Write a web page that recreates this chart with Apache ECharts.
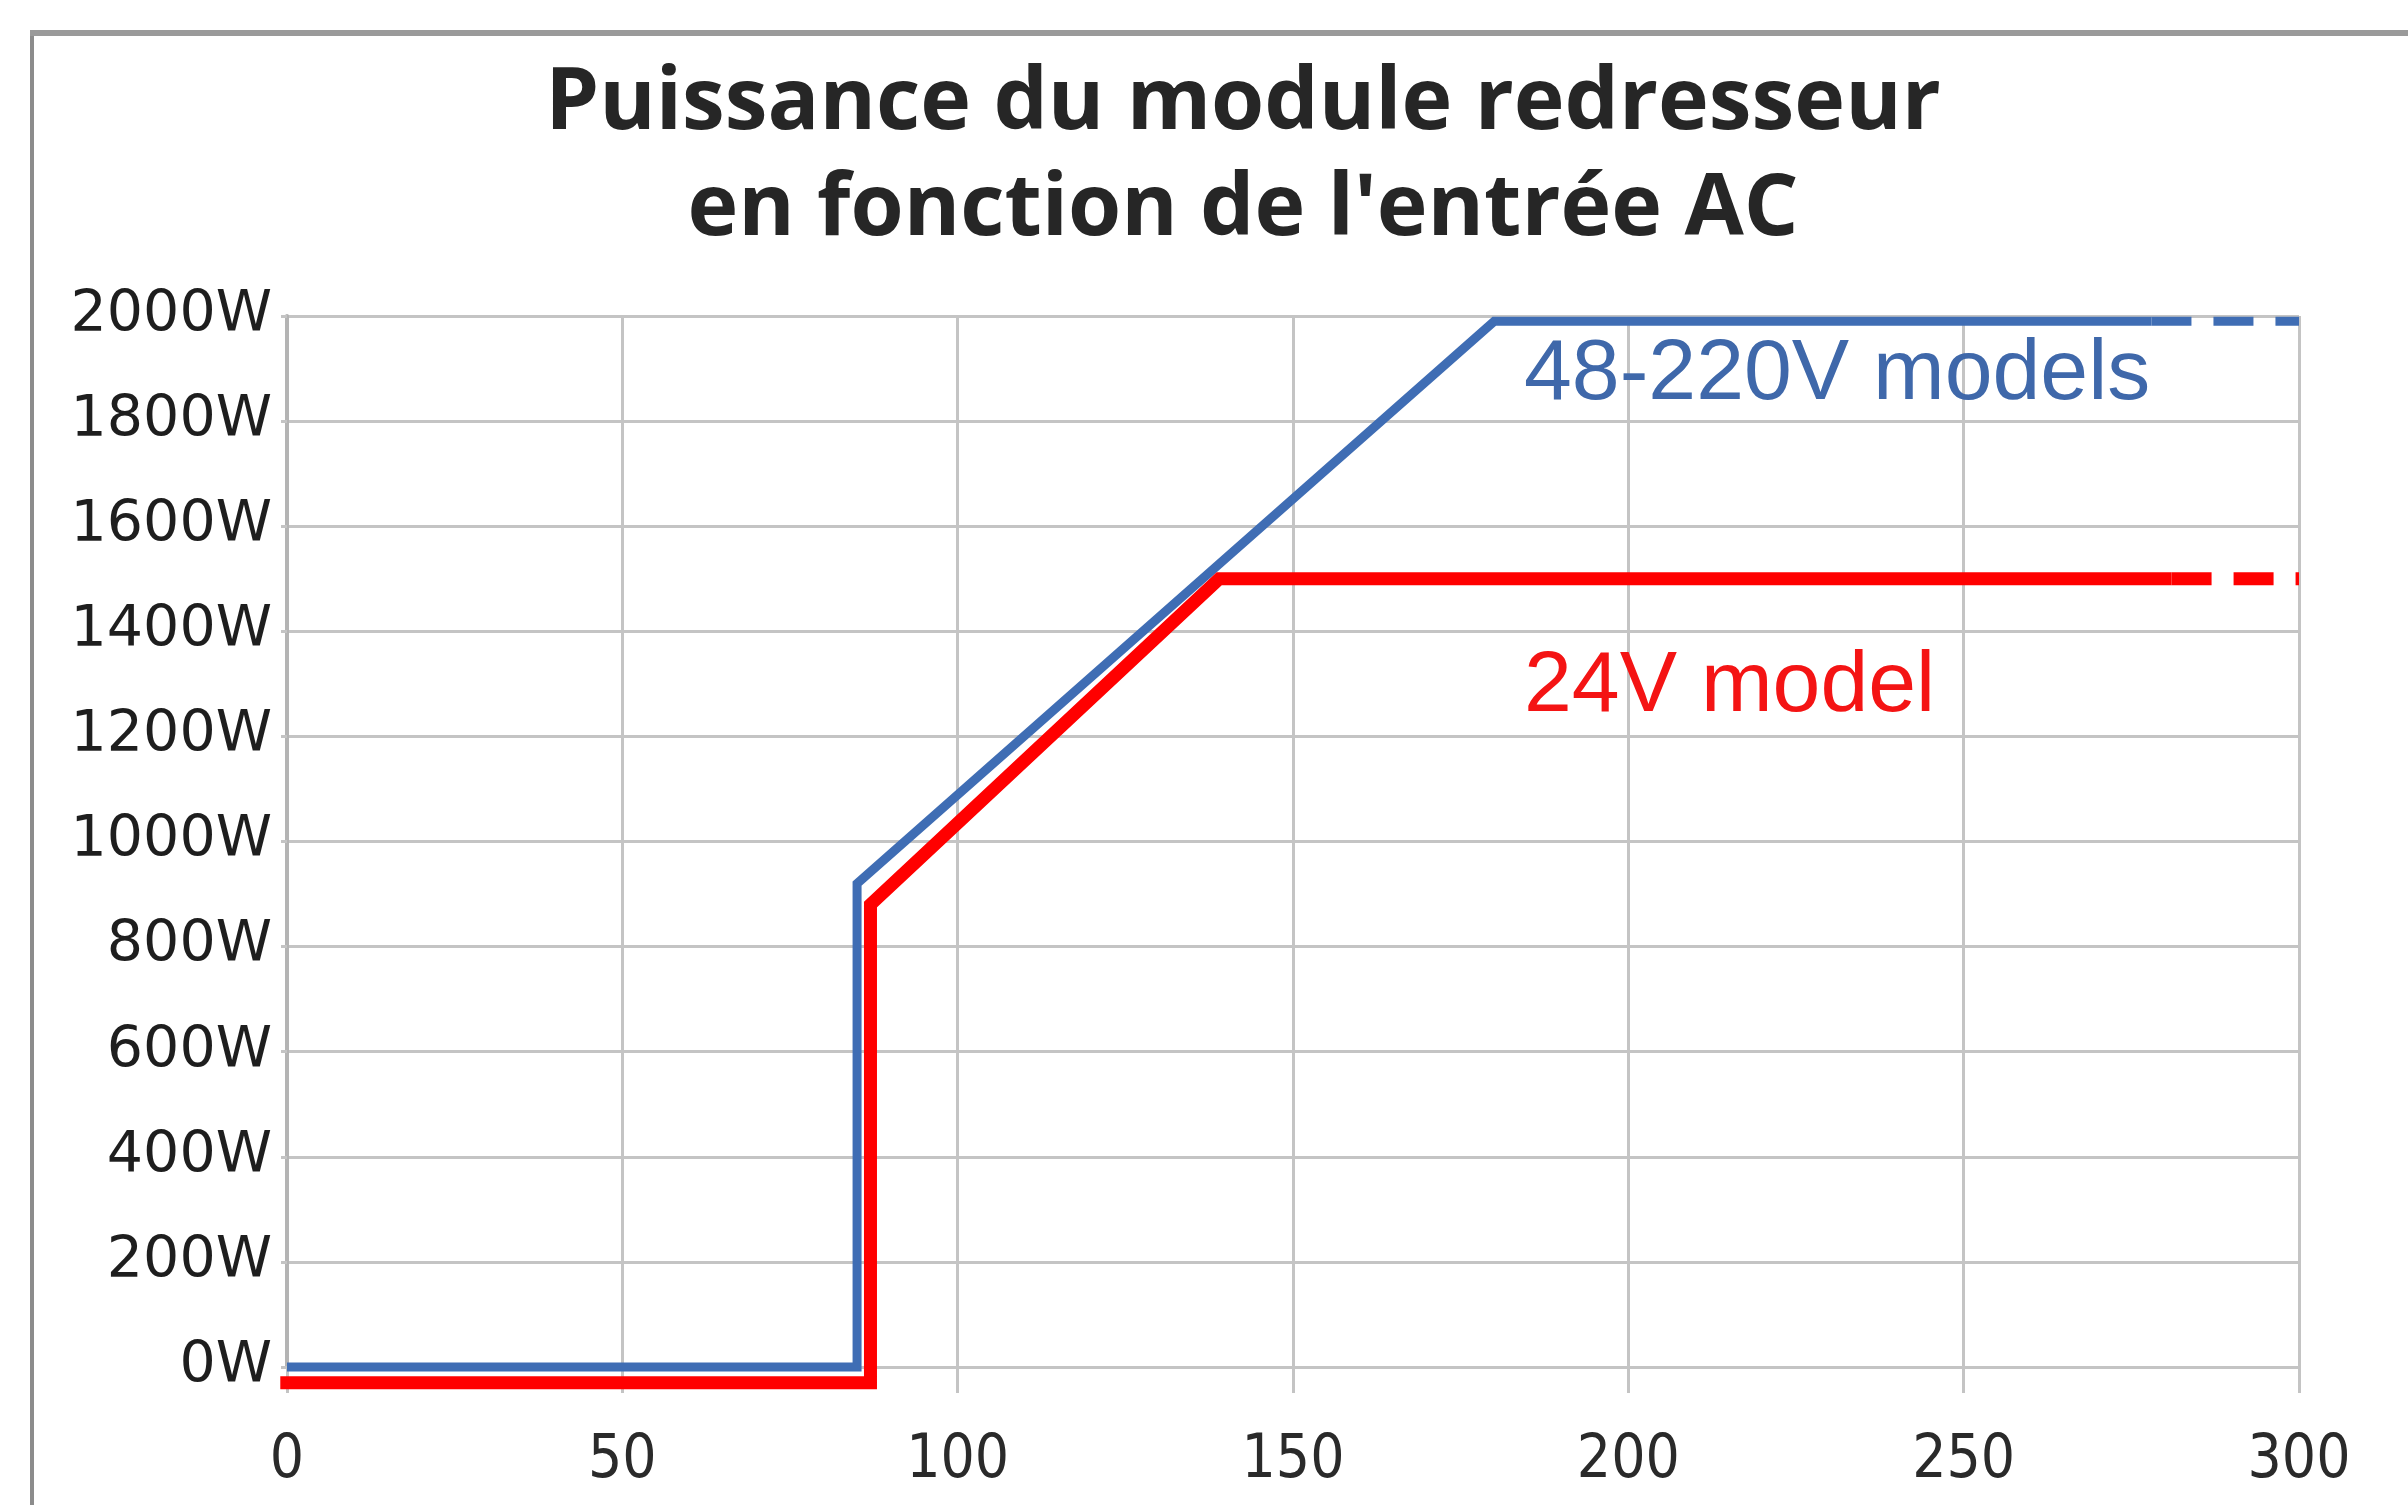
<!DOCTYPE html>
<html>
<head>
<meta charset="utf-8">
<script src="https://cdn.jsdelivr.net/npm/echarts@6/dist/echarts.min.js"></script>
<style>
html,body{margin:0;padding:0;background:#fff;}
#c{width:2408px;height:1505px;}
</style>
</head>
<body>
<div id="c"></div>
<script>
// Data (x = AC input voltage, y = power in W)
const xTicks = [0, 50, 100, 150, 200, 250, 300];
const yTicks = [0, 200, 400, 600, 800, 1000, 1200, 1400, 1600, 1800, 2000];
const blueSolid = [[0, 0], [85, 0], [85, 920], [180, 1990], [278, 1990]];
const blueDash = [[278, 1990], [300, 1990]];
const redSolid = [[-1, -30], [87, -30], [87, 880], [139, 1500], [281, 1500]];
const redDash = [[281, 1500], [300, 1500]];
const titleLines = ['Puissance du module redresseur', "en fonction de l'entrée AC"];
const blueLabel = '48-220V models';
const redLabel = '24V model';

const chart = echarts.init(document.getElementById('c'));
const gridColor = '#c4c4c4';
const BLUE = '#3f6db4';
const RED = '#ff0000';

function lineSeries(name, data, color, width, dash) {
  return {
    name: name, type: 'line', data: data, symbol: 'none', clip: false,
    animation: false, z: color === RED ? 4 : 3,
    lineStyle: { color: color, width: width, type: dash ? [40, 22] : 'solid', join: 'miter', cap: 'butt' }
  };
}

chart.setOption({
  backgroundColor: '#ffffff',
  animation: false,
  grid: { left: 287, right: 109, top: 316, bottom: 138, containLabel: false },
  xAxis: {
    type: 'value', min: xTicks[0], max: xTicks[xTicks.length - 1], interval: 50,
    axisLine: { show: true, lineStyle: { color: gridColor, width: 3 } },
    axisTick: { show: true, length: 26, lineStyle: { color: gridColor, width: 3 } },
    axisLabel: { fontFamily: "'DejaVu Sans Condensed', 'DejaVu Sans'", fontSize: 60, color: '#2a2a2a', margin: 64 },
    splitLine: { show: true, lineStyle: { color: gridColor, width: 3 } }
  },
  yAxis: {
    type: 'value', min: yTicks[0], max: yTicks[yTicks.length - 1], interval: 200,
    axisLine: { show: true, lineStyle: { color: '#b4b4b4', width: 4 } },
    axisTick: { show: true, length: 6, lineStyle: { color: gridColor, width: 3 } },
    axisLabel: { fontFamily: "'DejaVu Sans'", fontSize: 57, color: '#1e1e1e', margin: 15,
      formatter: function (v) { return String(v) + 'W'; } },
    splitLine: { show: true, lineStyle: { color: gridColor, width: 3 } }
  },
  series: [
    lineSeries('48-220V', blueSolid, BLUE, 9, false),
    lineSeries('48-220V dash', blueDash, BLUE, 9, true),
    lineSeries('24V', redSolid, RED, 13, false),
    lineSeries('24V dash', redDash, RED, 13, true)
  ],
  graphic: [
    { type: 'rect', silent: true, z: 0, shape: { x: 32, y: 34, width: 2500, height: 1600 },
      style: { fill: 'none', stroke: '#8c8c8c', lineWidth: 4 } },
    { type: 'line', silent: true, shape: { x1: 30, y1: 33, x2: 2408, y2: 33 },
      style: { stroke: '#9a9a9a', lineWidth: 6 } },
    { type: 'text', silent: true, style: { text: titleLines[0], x: 1243, y: 104, textAlign: 'center', textVerticalAlign: 'middle',
      font: "bold 86px 'Open Sans'", fill: '#262626' } },
    { type: 'text', silent: true, style: { text: titleLines[1], x: 1243, y: 210, textAlign: 'center', textVerticalAlign: 'middle',
      font: "bold 86px 'Open Sans'", fill: '#262626' } },
    { type: 'text', silent: true, z: 10, style: { text: blueLabel, x: 1524, y: 375, textAlign: 'left', textVerticalAlign: 'middle',
      font: "86px 'Liberation Sans'", fill: '#3f68aa' } },
    { type: 'text', silent: true, z: 10, style: { text: redLabel, x: 1524, y: 687, textAlign: 'left', textVerticalAlign: 'middle',
      font: "86px 'Liberation Sans'", fill: '#f41414' } }
  ]
});
</script>
</body>
</html>
